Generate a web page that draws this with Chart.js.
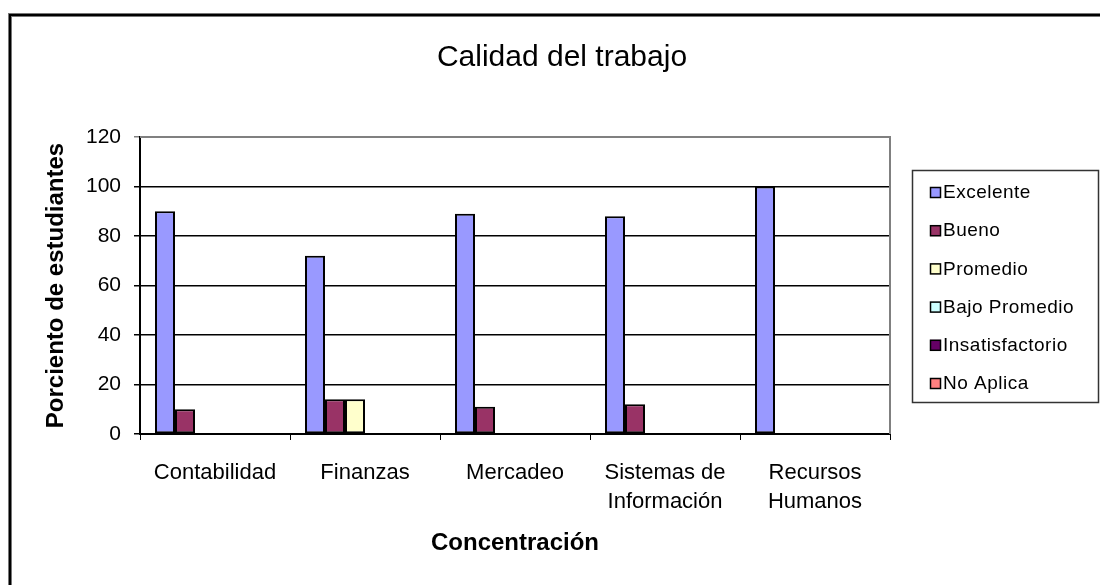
<!DOCTYPE html>
<html>
<head>
<meta charset="utf-8">
<script src="https://cdn.jsdelivr.net/npm/chart.js@4.4.0/dist/chart.umd.min.js"></script>
<style>
  html, body { margin: 0; padding: 0; background: #fff; }
  #wrap { width: 1100px; height: 585px; }
</style>
</head>
<body>
<div id="wrap"><canvas id="chart" width="1100" height="585"></canvas></div>
<script>
var categories = ["Contabilidad", "Finanzas", "Mercadeo", ["Sistemas de", "Información"], ["Recursos", "Humanos"]];
var seriesNames = ["Excelente", "Bueno", "Promedio", "Bajo Promedio", "Insatisfactorio", "No Aplica"];
var seriesColors = ["#9999FF", "#993366", "#FFFFCC", "#CCFFFF", "#660066", "#FF8080"];

var excelente = [90, 72, 89, 88, 100];
var bueno = [10, 14, 11, 12, 0];
var promedio = [0, 14, 0, 0, 0];
var bajoPromedio = [0, 0, 0, 0, 0];
var insatisfactorio = [0, 0, 0, 0, 0];
var noAplica = [0, 0, 0, 0, 0];

var yTicks = [0, 20, 40, 60, 80, 100, 120];

var fontFamily = "'Liberation Sans', Arial, sans-serif";
var allSeries = [excelente, bueno, promedio, bajoPromedio, insatisfactorio, noAplica];

// page frame, title and the boxed legend on the right
var decorPlugin = {
  id: "decor",
  beforeDraw(chart) {
    const ctx = chart.ctx;
    ctx.save();
    ctx.fillStyle = "#fff";
    ctx.fillRect(0, 0, chart.width, chart.height);
    ctx.fillStyle = "#777";
    ctx.fillRect(8, 13, chart.width - 8, 4);
    ctx.fillRect(8, 13, 4, chart.height - 13);
    ctx.fillStyle = "#000";
    ctx.fillRect(9, 14, chart.width - 9, 2);
    ctx.fillRect(9, 14, 2, chart.height - 14);
    ctx.restore();
  },
  afterDraw(chart) {
    const ctx = chart.ctx;
    const area = chart.chartArea;
    ctx.save();

    // plot area border (top / right)
    ctx.strokeStyle = "#808080";
    ctx.lineWidth = 2;
    ctx.beginPath();
    ctx.moveTo(area.left, area.top);
    ctx.lineTo(area.right, area.top);
    ctx.lineTo(area.right, area.bottom);
    ctx.stroke();

    // title
    ctx.fillStyle = "#000";
    ctx.font = "30px " + fontFamily;
    ctx.textAlign = "center";
    ctx.textBaseline = "middle";
    ctx.fillText("Calidad del trabajo", 562, 58);

    // legend
    ctx.strokeStyle = "#333";
    ctx.lineWidth = 1.5;
    ctx.strokeRect(912.5, 170.5, 186, 232);
    ctx.font = "19px " + fontFamily;
    ctx.textAlign = "left";
    ctx.letterSpacing = "0.5px";
    chart.data.datasets.forEach((ds, i) => {
      const y = 192 + i * 38.2;
      ctx.fillStyle = ds.backgroundColor;
      ctx.fillRect(930, y - 5, 11, 11);
      ctx.strokeStyle = "#000";
      ctx.lineWidth = 1.5;
      ctx.strokeRect(930.5, y - 4.5, 10, 10);
      ctx.fillStyle = "#000";
      ctx.fillText(ds.label, 943, y + 1);
    });
    ctx.restore();
  }
};

new Chart(document.getElementById("chart"), {
  type: "bar",
  data: {
    labels: categories,
    datasets: seriesNames.map((name, i) => ({
      label: name,
      data: allSeries[i],
      backgroundColor: seriesColors[i],
      borderColor: "#000",
      borderWidth: 2,
      borderSkipped: false,
      categoryPercentage: 0.8,
      barPercentage: 1.0,
    })),
  },
  options: {
    responsive: false,
    devicePixelRatio: 1,
    animation: false,
    layout: { padding: { top: 137, right: 210, bottom: 0, left: 0 } },
    plugins: {
      legend: { display: false },
      title: { display: false },
      tooltip: { enabled: false },
    },
    scales: {
      x: {
        offset: true,
        grid: {
          offset: true,
          drawOnChartArea: false,
          drawTicks: true,
          tickLength: 6,
          color: "#000",
        },
        border: { display: true, color: "#000", width: 2 },
        ticks: {
          color: "#000",
          padding: 18,
          maxRotation: 0,
          font: { family: fontFamily, size: 22, lineHeight: 1.32 },
        },
        title: {
          display: true,
          text: "Concentración",
          color: "#000",
          padding: { top: 0, bottom: 27 },
          font: { family: fontFamily, size: 24, weight: "bold", lineHeight: 1.2 },
        },
        afterFit(scale) { scale.height = 151; },
      },
      y: {
        min: 0,
        max: 120,
        afterBuildTicks(scale) { scale.ticks = yTicks.map(v => ({ value: v })); },
        grid: {
          color: (c) => c.tick && c.tick.value === 120 ? "#808080" : "#000",
          lineWidth: 1.5,
          tickLength: 6,
        },
        border: { display: true, color: "#000", width: 2 },
        ticks: {
          color: "#000",
          padding: 13,
          font: { family: fontFamily, size: 21 },
        },
        title: {
          display: true,
          text: "Porciento de estudiantes",
          color: "#000",
          padding: { top: 42, bottom: 0 },
          font: { family: fontFamily, size: 24, weight: "bold", lineHeight: 1.2 },
        },
        afterFit(scale) { scale.width = 140; },
      },
    },
  },
  plugins: [decorPlugin],
});
</script>
</body>
</html>
